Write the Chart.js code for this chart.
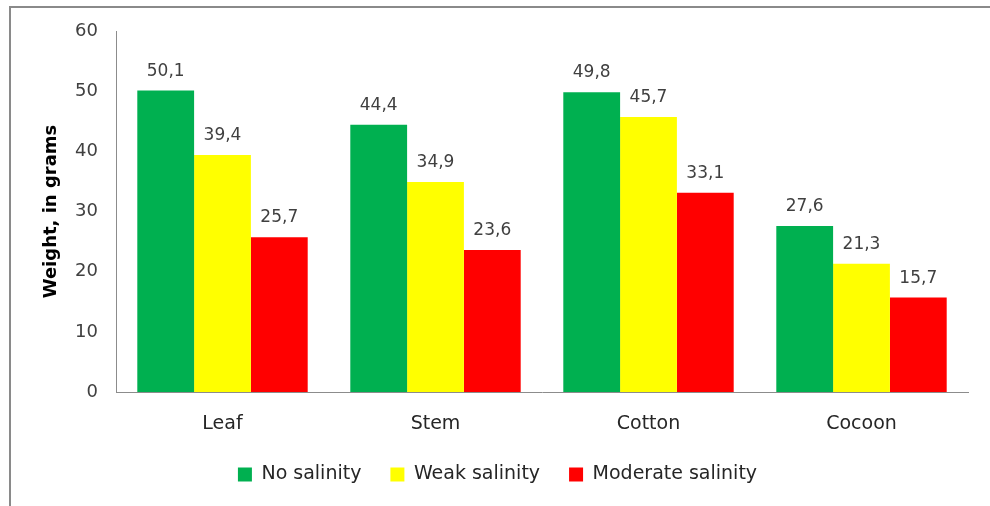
<!DOCTYPE html>
<html lang="en">
<head>
    <meta charset="UTF-8">
    <title>Weight, in grams</title>
    <script src="https://cdn.jsdelivr.net/npm/chart.js"></script>
    <style>
        body {
            margin: 0;
            padding: 0;
            background: #fff;
        }
        .wrap {
            position: relative;
            width: 990px;
            height: 506px;
        }
        .frame {
            position: absolute;
            left: 9px;
            top: 6px;
            right: 0;
            bottom: 0;
            border-top: 2px solid #8a8a8a;
            border-left: 2px solid #8a8a8a;
            pointer-events: none;
        }
    </style>
</head>
<body>
    <div class="wrap">
        <canvas id="grafico" width="990" height="506"></canvas>
        <div class="frame"></div>
    </div>

    <script>
        const categorias = ['Leaf', 'Stem', 'Cotton', 'Cocoon'];
        const semSalinidade = [50.1, 44.4, 49.8, 27.6];
        const salinidadeFraca = [39.4, 34.9, 45.7, 21.3];
        const salinidadeModerada = [25.7, 23.6, 33.1, 15.7];
        const ticksY = [0, 10, 20, 30, 40, 50, 60];

        const fonte = "'DejaVu Sans', sans-serif";

        // escreve os valores acima das barras, com virgula decimal
        const rotulos = {
            id: 'rotulos',
            afterDatasetsDraw(chart) {
                const ctx = chart.ctx;
                ctx.save();
                ctx.font = '17px ' + fonte;
                ctx.fillStyle = '#404040';
                ctx.textAlign = 'center';
                ctx.textBaseline = 'alphabetic';
                chart.data.datasets.forEach((ds, i) => {
                    chart.getDatasetMeta(i).data.forEach((bar, j) => {
                        const txt = ds.data[j].toFixed(1).replace('.', ',');
                        ctx.fillText(txt, bar.x, bar.y - 15);
                    });
                });
                ctx.restore();
            }
        };

        new Chart(document.getElementById('grafico'), {
            type: 'bar',
            data: {
                labels: categorias,
                datasets: [
                    { label: 'No salinity', data: semSalinidade, backgroundColor: '#00b050' },
                    { label: 'Weak salinity', data: salinidadeFraca, backgroundColor: '#ffff00' },
                    { label: 'Moderate salinity', data: salinidadeModerada, backgroundColor: '#ff0000' }
                ]
            },
            options: {
                responsive: false,
                animation: false,
                devicePixelRatio: 1,
                layout: {
                    padding: { top: 31, right: 22, bottom: 12, left: 27 }
                },
                datasets: {
                    bar: { categoryPercentage: 0.8, barPercentage: 1.0 }
                },
                plugins: {
                    legend: {
                        position: 'bottom',
                        labels: {
                            font: { family: fonte, size: 19 },
                            color: '#262626',
                            boxWidth: 14,
                            boxHeight: 14,
                            padding: 29
                        }
                    },
                    tooltip: { enabled: false }
                },
                scales: {
                    x: {
                        grid: { display: false, drawTicks: false },
                        border: { color: '#8c8c8c', width: 1 },
                        ticks: {
                            font: { family: fonte, size: 19 },
                            color: '#262626',
                            padding: 21
                        },
                        afterFit(scale) { scale.height = 44; }
                    },
                    y: {
                        min: 0,
                        max: 60,
                        afterBuildTicks(scale) {
                            scale.ticks = ticksY.map(v => ({ value: v }));
                        },
                        grid: { display: false, drawTicks: false },
                        border: { color: '#8c8c8c', width: 1 },
                        ticks: {
                            font: { family: fonte, size: 18 },
                            color: '#404040',
                            padding: 18
                        },
                        title: {
                            display: true,
                            text: 'Weight, in grams',
                            font: { family: fonte, size: 18, weight: 'bold' },
                            color: '#000',
                            padding: { top: 14, bottom: 0 }
                        },
                        afterFit(scale) { scale.width = 89; }
                    }
                }
            },
            plugins: [rotulos]
        });
    </script>
</body>
</html>
